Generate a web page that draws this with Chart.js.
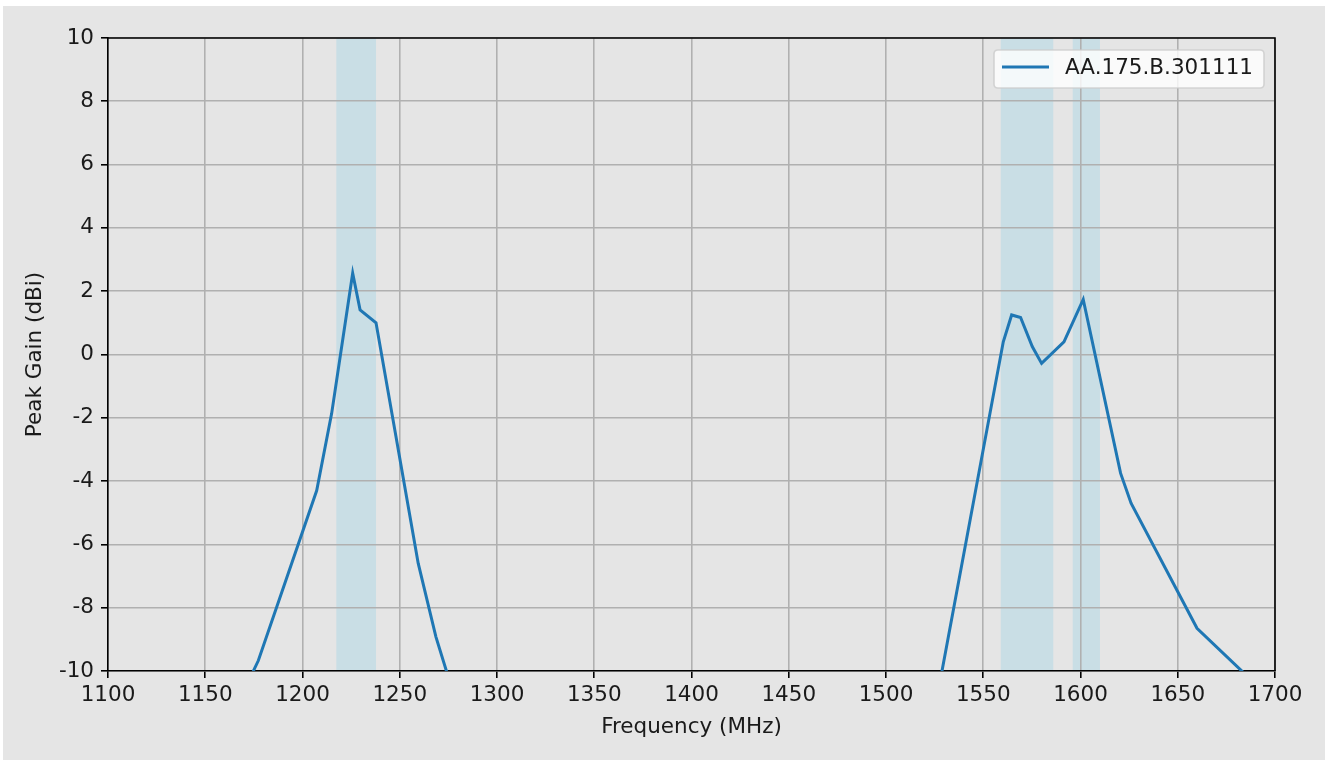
<!DOCTYPE html>
<html>
<head>
<meta charset="utf-8">
<title>Peak Gain vs Frequency</title>
<script src="https://cdn.jsdelivr.net/npm/chart.js@4.4.1/dist/chart.umd.min.js"></script>
<style>
  html, body { margin: 0; padding: 0; background: #ffffff; }
  canvas { display: block; }
</style>
</head>
<body>
<canvas id="gainChart" width="1325" height="760"></canvas>
<script>
// Measured peak gain of the antenna across frequency
const seriesLabel = 'AA.175.B.301111';
const frequencyMHz = [1160, 1177.3, 1207.3, 1215.0, 1225.8, 1229.6, 1237.8, 1259.5, 1268.6, 1280,
                      1520, 1560.3, 1564.6, 1569.2, 1575.2, 1580.0, 1591.5, 1601.4, 1620.6, 1626.0, 1659.9, 1700];
const peakGainDBi = [-11.9, -9.67, -4.30, -1.86, 2.57, 1.41, 1.00, -6.6, -8.92, -11.2,
                     -12.9, 0.40, 1.25, 1.17, 0.25, -0.28, 0.40, 1.74, -3.75, -4.70, -8.65, -11.0];

// GNSS bands highlighted behind the curve (start, end in MHz)
const bandStartMHz = [1217.4, 1559.0, 1596.0];
const bandEndMHz   = [1237.8, 1586.0, 1610.0];

// Axis ranges and tick spacing
const xMin = 1100, xMax = 1700, xStep = 50;
const yMin = -10, yMax = 10, yStep = 2;

const FONT = 'DejaVu Sans';
const FONT_SIZE = 21.5;
const TEXT = '#1a1a1a';
const LINE_BLUE = '#1f77b4';

const points = frequencyMHz.map((f, i) => ({ x: f, y: peakGainDBi[i] }));

const backdropPlugin = {
  id: 'backdrop',
  beforeDraw(chart) {
    const { ctx, chartArea, scales } = chart;
    ctx.save();
    ctx.fillStyle = '#ffffff';
    ctx.fillRect(0, 0, chart.width, chart.height);
    ctx.fillStyle = '#e5e5e5';
    ctx.fillRect(3, 6, chart.width - 3, chart.height - 6);
    // shaded frequency bands
    ctx.fillStyle = '#c9dee5';
    bandStartMHz.forEach((s, i) => {
      const x0 = scales.x.getPixelForValue(s);
      const x1 = scales.x.getPixelForValue(bandEndMHz[i]);
      ctx.fillRect(x0, chartArea.top, x1 - x0, chartArea.bottom - chartArea.top);
    });
    ctx.restore();
  }
};

const framePlugin = {
  id: 'frame',
  afterDraw(chart) {
    const { ctx, chartArea } = chart;
    ctx.save();
    // top and right spines
    ctx.strokeStyle = '#000000';
    ctx.lineWidth = 1.6;
    ctx.beginPath();
    ctx.moveTo(chartArea.left, chartArea.top);
    ctx.lineTo(chartArea.right, chartArea.top);
    ctx.lineTo(chartArea.right, chartArea.bottom);
    ctx.stroke();

    // legend box in the upper right
    const bx = chartArea.right - 281, by = chartArea.top + 12, bw = 270, bh = 38, r = 4;
    ctx.beginPath();
    ctx.moveTo(bx + r, by);
    ctx.lineTo(bx + bw - r, by);
    ctx.quadraticCurveTo(bx + bw, by, bx + bw, by + r);
    ctx.lineTo(bx + bw, by + bh - r);
    ctx.quadraticCurveTo(bx + bw, by + bh, bx + bw - r, by + bh);
    ctx.lineTo(bx + r, by + bh);
    ctx.quadraticCurveTo(bx, by + bh, bx, by + bh - r);
    ctx.lineTo(bx, by + r);
    ctx.quadraticCurveTo(bx, by, bx + r, by);
    ctx.closePath();
    ctx.fillStyle = 'rgba(255,255,255,0.8)';
    ctx.fill();
    ctx.strokeStyle = 'rgba(204,204,204,0.8)';
    ctx.lineWidth = 1.6;
    ctx.stroke();

    const ly = by + 17;
    ctx.strokeStyle = LINE_BLUE;
    ctx.lineWidth = 3;
    ctx.beginPath();
    ctx.moveTo(bx + 8, ly);
    ctx.lineTo(bx + 55, ly);
    ctx.stroke();

    ctx.fillStyle = TEXT;
    ctx.font = FONT_SIZE + 'px "' + FONT + '"';
    ctx.textAlign = 'left';
    ctx.textBaseline = 'middle';
    ctx.fillText(chart.data.datasets[0].label, bx + 71, ly + 1);
    ctx.restore();
  }
};

new Chart(document.getElementById('gainChart'), {
  type: 'line',
  data: {
    datasets: [{
      label: seriesLabel,
      data: points,
      borderColor: LINE_BLUE,
      backgroundColor: LINE_BLUE,
      borderWidth: 3,
      pointRadius: 0,
      tension: 0,
      fill: false
    }]
  },
  options: {
    responsive: false,
    devicePixelRatio: 1,
    animation: false,
    layout: { padding: { left: 0, top: 38, right: 50, bottom: 0 } },
    plugins: {
      legend: { display: false },
      tooltip: { enabled: false }
    },
    scales: {
      x: {
        type: 'linear',
        min: xMin,
        max: xMax,
        afterFit(scale) { scale.height = 89; },
        ticks: {
          stepSize: xStep,
          color: TEXT,
          font: { family: FONT, size: FONT_SIZE },
          padding: 5,
          maxRotation: 0,
          autoSkip: false,
          callback: (v) => String(v)
        },
        grid: {
          color: '#b0b0b0',
          lineWidth: 1.6,
          tickColor: '#000000',
          tickLength: 7,
          tickWidth: 1.6
        },
        border: { display: true, color: '#000000', width: 1.6 },
        title: {
          display: true,
          text: 'Frequency (MHz)',
          color: TEXT,
          font: { family: FONT, size: FONT_SIZE },
          padding: { top: 0, bottom: 20 }
        }
      },
      y: {
        type: 'linear',
        min: yMin,
        max: yMax,
        afterFit(scale) { scale.width = 108; },
        ticks: {
          stepSize: yStep,
          color: TEXT,
          font: { family: FONT, size: FONT_SIZE },
          padding: 7,
          callback: (v) => String(v)
        },
        grid: {
          color: '#b0b0b0',
          lineWidth: 1.6,
          tickColor: '#000000',
          tickLength: 7,
          tickWidth: 1.6
        },
        border: { display: true, color: '#000000', width: 1.6 },
        title: {
          display: true,
          text: 'Peak Gain (dBi)',
          color: TEXT,
          font: { family: FONT, size: FONT_SIZE },
          padding: { top: 23, bottom: 0 }
        }
      }
    }
  },
  plugins: [backdropPlugin, framePlugin]
});
</script>
</body>
</html>
